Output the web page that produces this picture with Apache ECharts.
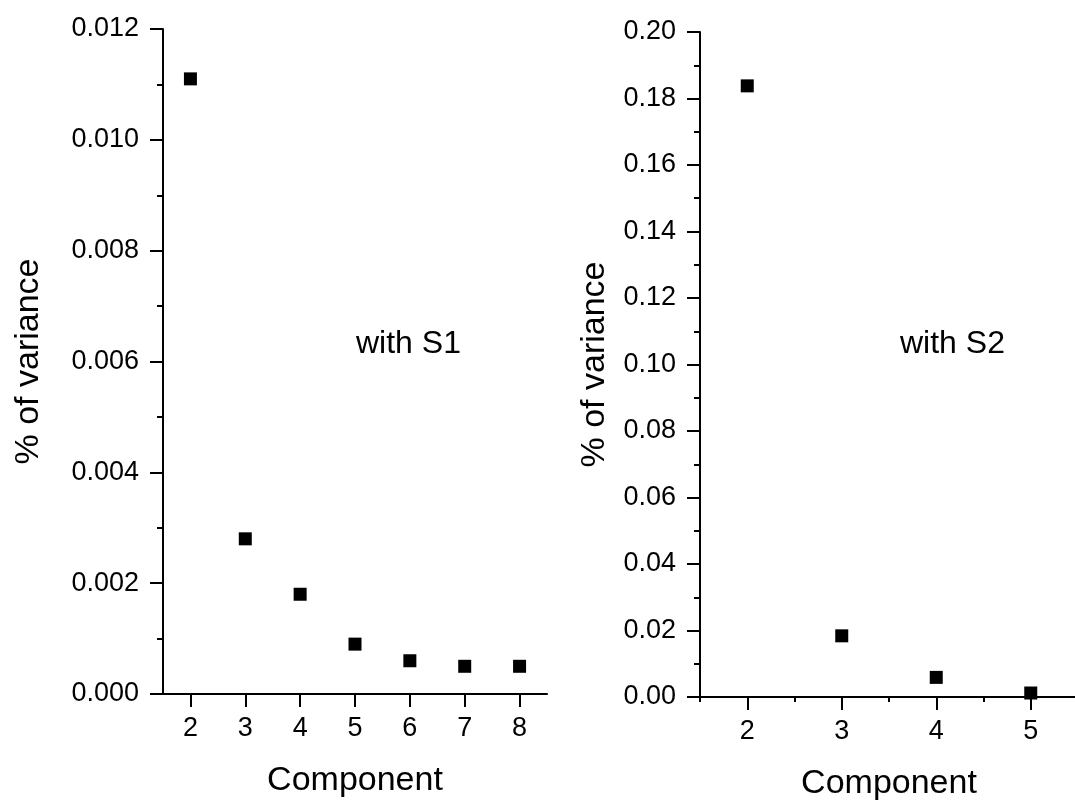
<!DOCTYPE html>
<html>
<head>
<meta charset="utf-8">
<script src="https://cdn.jsdelivr.net/npm/echarts@6/dist/echarts.min.js"></script>
<style>html,body{margin:0;padding:0;background:#fff}#c{width:1075px;height:801px}</style>
</head>
<body>
<div id="c"></div>
<script>
// Left panel (with S1)
const compS1 = [2, 3, 4, 5, 6, 7, 8];
const varS1 = [0.0111, 0.0028, 0.0018, 0.0009, 0.0006, 0.0005, 0.0005];
// Right panel (with S2)
const compS2 = [2, 3, 4, 5];
const varS2 = [0.1838, 0.0184, 0.0059, 0.0012];
const xTicksS1 = [2, 3, 4, 5, 6, 7, 8];
const xTicksS2 = [2, 3, 4, 5];
const xMinorS2 = [1.5, 2.5, 3.5, 4.5, 5.5];
const panelLabels = ['with S1', 'with S2'];
const xTitle = 'Component';
const yTitle = '% of variance';

const FONT = 'Liberation Sans, Arial, sans-serif';
const black = '#000';
const lineS = { color: black, width: 2 };

function xAxisMain(grid, min, max, ticks) {
  return {
    type: 'value', gridIndex: grid, min: min, max: max,
    name: xTitle, nameLocation: 'middle', nameGap: 70,
    nameTextStyle: { fontFamily: FONT, fontSize: 34, color: black },
    axisLine: { show: true, onZero: false, lineStyle: lineS },
    axisTick: { show: true, inside: false, length: 13, lineStyle: lineS, customValues: ticks },
    axisLabel: { fontFamily: FONT, fontSize: 27, color: black, margin: 21, customValues: ticks },
    splitLine: { show: false }
  };
}
function yAxisMain(grid, max, interval, dec, gap) {
  return {
    type: 'value', gridIndex: grid, min: 0, max: max, interval: interval,
    name: yTitle, nameLocation: 'middle', nameGap: gap, nameRotate: 90,
    nameTextStyle: { fontFamily: FONT, fontSize: 34, color: black },
    axisLine: { show: true, lineStyle: lineS },
    axisTick: { show: true, length: 13, lineStyle: lineS },
    minorTick: { show: true, splitNumber: 2, length: 6, lineStyle: lineS },
    axisLabel: { fontFamily: FONT, fontSize: 27, color: black, margin: 24,
      formatter: v => v.toFixed(dec) },
    splitLine: { show: false }
  };
}

const option = {
  backgroundColor: '#fff',
  animation: false,
  grid: [
    { left: 163, top: 29, width: 384, height: 665, outerBoundsMode: 'none', containLabel: false },
    { left: 700, top: 32, width: 378, height: 665, outerBoundsMode: 'none', containLabel: false }
  ],
  xAxis: [
    xAxisMain(0, 1.5, 8.5, xTicksS1),
    xAxisMain(1, 1.5, 5.5, xTicksS2),
    {
      type: 'value', gridIndex: 1, min: 1.5, max: 5.5, position: 'bottom',
      axisLine: { show: false },
      axisTick: { show: true, length: 5, lineStyle: lineS, customValues: xMinorS2 },
      axisLabel: { show: false, customValues: xMinorS2 },
      splitLine: { show: false }
    }
  ],
  yAxis: [
    yAxisMain(0, 0.012, 0.002, 3, 117),
    yAxisMain(1, 0.2, 0.02, 2, 88)
  ],
  series: [
    { type: 'scatter', xAxisIndex: 0, yAxisIndex: 0, symbol: 'rect', symbolSize: 13,
      itemStyle: { color: black, opacity: 1 }, data: compS1.map((c, i) => [c, varS1[i]]) },
    { type: 'scatter', xAxisIndex: 1, yAxisIndex: 1, symbol: 'rect', symbolSize: 13,
      clip: false,
      itemStyle: { color: black, opacity: 1 }, data: compS2.map((c, i) => [c, varS2[i]]) }
  ],
  graphic: [
    { type: 'text', left: 356, top: 328, style: { text: panelLabels[0], fontFamily: FONT, fontSize: 32, fill: black } },
    { type: 'text', left: 900, top: 328, style: { text: panelLabels[1], fontFamily: FONT, fontSize: 32, fill: black } }
  ]
};
const chart = echarts.init(document.getElementById('c'), null, { renderer: 'canvas' });
chart.setOption(option);
</script>
</body>
</html>
